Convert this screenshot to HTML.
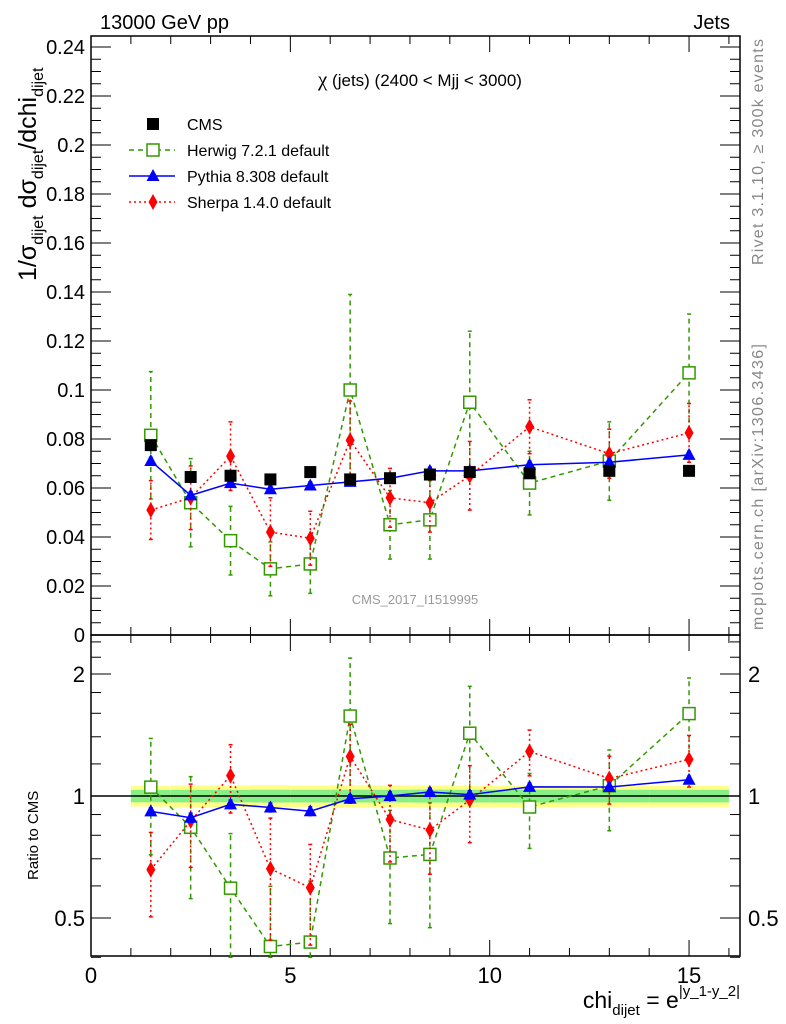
<!DOCTYPE html>
<html><head><meta charset="utf-8"><style>
body{margin:0;background:#fff;}
svg{display:block;font-family:"Liberation Sans",sans-serif;}
</style></head><body>
<svg id="c" width="786" height="1024" viewBox="0 0 786 1024" xmlns="http://www.w3.org/2000/svg">
<text x="100" y="29" font-size="20">13000 GeV pp</text>
<text x="730" y="29" font-size="20" text-anchor="end">Jets</text>
<text x="420" y="86" font-size="17" text-anchor="middle"><tspan font-family="'Liberation Serif',serif" font-size="21">χ</tspan> (jets) (2400 &lt; Mjj &lt; 3000)</text>
<text x="415" y="604" font-size="13" fill="#999" text-anchor="middle">CMS_2017_I1519995</text>
<text transform="translate(763,265) rotate(-90)" font-size="16" fill="#888" textLength="226">Rivet 3.1.10, ≥ 300k events</text>
<text transform="translate(763,630) rotate(-90)" font-size="16" fill="#888" textLength="286">mcplots.cern.ch [arXiv:1306.3436]</text>
<text transform="translate(36,281) rotate(-90)" font-size="25">1/σ<tspan font-size="16" dy="7">dijet</tspan><tspan dy="-7"> dσ</tspan><tspan font-size="16" dy="7">dijet</tspan><tspan dy="-7">/dchi</tspan><tspan font-size="16" dy="7">dijet</tspan></text>
<text transform="translate(38,880) rotate(-90)" font-size="15">Ratio to CMS</text>
<text x="740" y="1008" font-size="23" text-anchor="end">chi<tspan font-size="15" dy="7">dijet</tspan><tspan dy="-7"> = e</tspan><tspan font-size="15" dy="-12">|y_1-y_2|</tspan></text>
<g id="g"></g>
</svg>
<script>
const xCenters=[1.5,2.5,3.5,4.5,5.5,6.5,7.5,8.5,9.5,11,13,15];
const binLo=[1,2,3,4,5,6,7,8,9,10,12,14];
const binHi=[2,3,4,5,6,7,8,9,10,12,14,16];
const cmsVals=[0.0775,0.0645,0.065,0.0635,0.0665,0.0635,0.064,0.0655,0.0665,0.066,0.067,0.067];
const cmsErr1=[0.0027,0.0023,0.0023,0.0023,0.0024,0.0023,0.0023,0.0024,0.0024,0.0024,0.0024,0.0024];
const cmsErr2=[0.0045,0.004,0.004,0.004,0.004,0.004,0.004,0.004,0.004,0.004,0.004,0.004];
const herwigVals=[0.0815,0.054,0.0385,0.027,0.029,0.100,0.045,0.047,0.095,0.062,0.071,0.107];
const herwigErr=[0.026,0.018,0.014,0.011,0.012,0.039,0.014,0.016,0.029,0.013,0.016,0.024];
const pythiaVals=[0.071,0.057,0.062,0.0595,0.061,0.0625,0.064,0.067,0.067,0.0695,0.0705,0.0735];
const pythiaErr=[0.0015,0.0015,0.0015,0.0015,0.0015,0.0015,0.0015,0.0015,0.0015,0.0015,0.0015,0.0015];
const sherpaVals=[0.051,0.056,0.073,0.042,0.0395,0.0795,0.056,0.054,0.065,0.085,0.074,0.0825];
const sherpaErr=[0.012,0.013,0.014,0.014,0.011,0.016,0.012,0.012,0.014,0.011,0.01,0.012];
const yTickLabels=["0","0.02","0.04","0.06","0.08","0.1","0.12","0.14","0.16","0.18","0.2","0.22","0.24"];
const rTickVals=[0.5,1,2];
const xTickVals=[0,5,10,15];

const L=91,R=740,T=36,M=635,B=956;
const XMAX=(R-L)/39.87;
const X=v=>L+v*39.87;
const Y=v=>635-v*2450;
const RY=v=>796-Math.log2(v)*122;
const NS="http://www.w3.org/2000/svg";
const g=document.getElementById('g');
function el(t,a,p){const e=document.createElementNS(NS,t);for(const k in a)e.setAttribute(k,a[k]);(p||g).appendChild(e);return e;}

for(let i=0;i<xCenters.length;i++){
  const b1=el('rect',{x:X(binLo[i]),width:X(binHi[i])-X(binLo[i]),y:RY(1+cmsErr2[i]/cmsVals[i]),height:RY(1-cmsErr2[i]/cmsVals[i])-RY(1+cmsErr2[i]/cmsVals[i]),fill:'#ffff88'});
  
  
  const b2=el('rect',{x:X(binLo[i]),width:X(binHi[i])-X(binLo[i]),y:RY(1+cmsErr1[i]/cmsVals[i]),height:RY(1-cmsErr1[i]/cmsVals[i])-RY(1+cmsErr1[i]/cmsVals[i]),fill:'#88ee88'});
  
  
}
const one=el('line',{x1:L,x2:R,y1:RY(1),y2:RY(1),stroke:'#000','stroke-width':1.5});



function frame(y0,y1,name){
  const f=el('rect',{x:L,y:y0,width:R-L,height:y1-y0,fill:'none',stroke:'#000','stroke-width':1.5});
  
  
  for(let v=0;v<=XMAX;v+=1){
    const len=v%5===0?16:8;
    el('line',{x1:X(v),x2:X(v),y1:y1,y2:y1-len,stroke:'#000'});
    el('line',{x1:X(v),x2:X(v),y1:y0,y2:y0+len,stroke:'#000'});
  }
}
frame(T,M,'main-plot-frame');
frame(M,B,'ratio-plot-frame');
for(let k=0;k*0.005<=0.2445;k++){
  const v=k*0.005,len=k%4===0?20:10;
  el('line',{x1:L,x2:L+len,y1:Y(v),y2:Y(v),stroke:'#000'});
  el('line',{x1:R,x2:R-len,y1:Y(v),y2:Y(v),stroke:'#000'});
}
yTickLabels.forEach((s,i)=>{
  const t=el('text',{x:L-6,y:Y(i*0.02)+7,'font-size':20,'text-anchor':'end'});t.textContent=s;
  
  
});
const rMinor=[0.4,0.5,0.6,0.7,0.8,0.9,1,1.2,1.4,1.6,1.8,2,2.2,2.4];
rMinor.forEach(v=>{const len=(v===0.5||v===1||v===2)?20:10;
  el('line',{x1:L,x2:L+len,y1:RY(v),y2:RY(v),stroke:'#000'});
  el('line',{x1:R,x2:R-len,y1:RY(v),y2:RY(v),stroke:'#000'});});
rTickVals.forEach(v=>{
  const t=el('text',{x:L-6,y:RY(v)+8,'font-size':22,'text-anchor':'end'});t.textContent=String(v);
  
  
  const t2=el('text',{x:R+8,y:RY(v)+8,'font-size':22});t2.textContent=String(v);
  
  
});
xTickVals.forEach(v=>{
  const t=el('text',{x:X(v),y:B+27,'font-size':22,'text-anchor':'middle'});t.textContent=String(v);
  
  
});

function marker(kind,x,y,color,parent){
  if(kind==='sq')return el('rect',{x:x-6,y:y-6,width:12,height:12,fill:'#000'},parent);
  if(kind==='osq')return el('rect',{x:x-6,y:y-6,width:12,height:12,fill:'#fff',stroke:color,'stroke-width':1.5},parent);
  if(kind==='tri')return el('path',{d:`M${x} ${y-7}L${x+6.5} ${y+5}L${x-6.5} ${y+5}Z`,fill:color},parent);
  return el('path',{d:`M${x} ${y-8}L${x+4.5} ${y}L${x} ${y+8}L${x-4.5} ${y}Z`,fill:color},parent);
}
function series(name,vals,errs,color,dash,kind,ratio,noErr){
  const grp=el('g',{});
  
  
  const yf=ratio?(v=>RY(Math.max(v,0.3))):Y;
  const val=i=>ratio?vals[i]/cmsVals[i]:vals[i];
  const er=i=>ratio?errs[i]/cmsVals[i]:errs[i];
  const pts=xCenters.map((x,i)=>X(x)+','+yf(val(i))).join(' ');
  if(color){el('polyline',{points:pts,fill:'none',stroke:color,'stroke-width':1.5,'stroke-dasharray':dash},grp);}
  xCenters.forEach((x,i)=>{
    if(!noErr){
      const lo=val(i)-er(i),hi=val(i)+er(i);
      const y1=ratio?RY(Math.max(lo,0.4)):Y(lo),y2=ratio?RY(Math.min(hi,2.5)):Y(hi);
      el('line',{x1:X(x),x2:X(x),y1:y1,y2:y2,stroke:color||'#000','stroke-width':1.5,'stroke-dasharray':dash},grp);
      el('line',{x1:X(x)-2,x2:X(x)+2,y1:y1,y2:y1,stroke:color||'#000','stroke-width':1.5},grp);
      el('line',{x1:X(x)-2,x2:X(x)+2,y1:y2,y2:y2,stroke:color||'#000','stroke-width':1.5},grp);
    }
    const m=marker(kind,X(x),yf(val(i)),color,grp);
    
    
  });
}
series('herwig',herwigVals,herwigErr,'#339900','5,4','osq',false);
series('sherpa',sherpaVals,sherpaErr,'#ff0000','2,3','dia',false);
series('pythia',pythiaVals,pythiaErr,'#0000ff',null,'tri',false);
series('cms',cmsVals,cmsErr1,null,null,'sq',false,true);
series('herwig',herwigVals,herwigErr,'#339900','5,4','osq',true);
series('sherpa',sherpaVals,sherpaErr,'#ff0000','2,3','dia',true);
series('pythia',pythiaVals,pythiaErr,'#0000ff',null,'tri',true);

const leg=[['CMS',null,null,'sq'],['Herwig 7.2.1 default','#339900','5,4','osq'],['Pythia 8.308 default','#0000ff',null,'tri'],['Sherpa 1.4.0 default','#ff0000','2,3','dia']];
leg.forEach((e,i)=>{
  const y=124+i*26;
  const lg=el('g',{});
  
  
  if(e[1])el('line',{x1:129,x2:175,y1:y,y2:y,stroke:e[1],'stroke-width':1.5,'stroke-dasharray':e[2]},lg);
  marker(e[3],153,y,e[1],lg);
  const t=el('text',{x:187,y:y+6,'font-size':16},lg);t.textContent=e[0];
});
</script>
</body></html>
